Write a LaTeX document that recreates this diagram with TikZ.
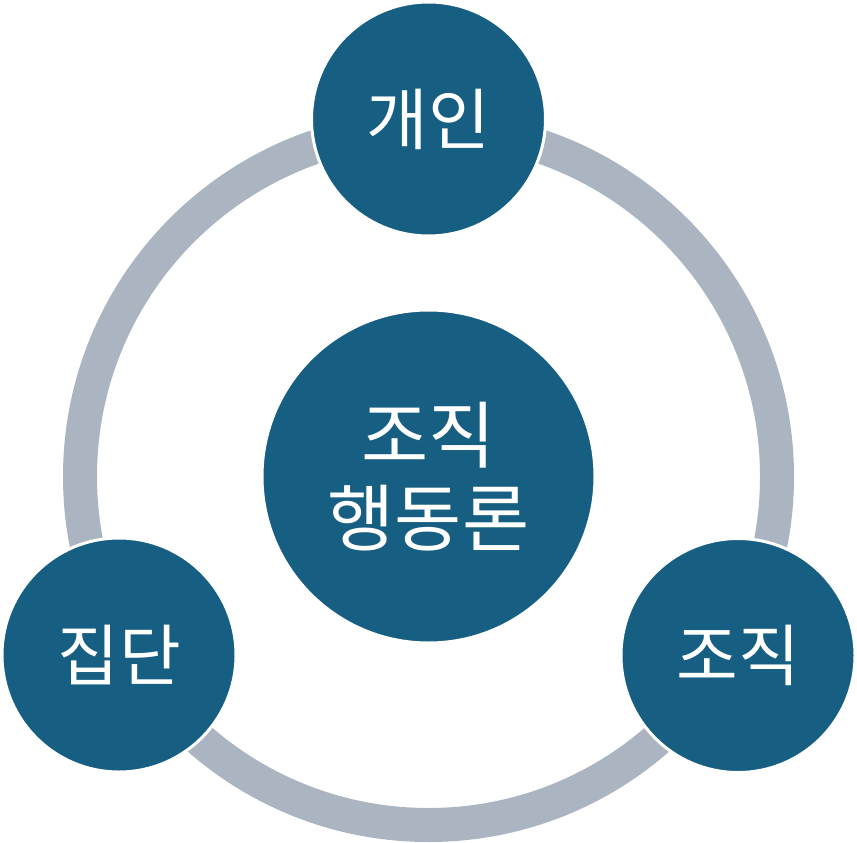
\documentclass[tikz,border=0pt]{standalone}
\usepackage{fontspec}
\usepackage{xcolor}
\usepackage{tikz}
\newfontfamily\krfont{Noto Sans CJK KR}
\usetikzlibrary{positioning,calc}
\definecolor{orgblue}{RGB}{23,95,130}
\definecolor{ringgray}{RGB}{170,181,193}

\begin{document}
\begin{tikzpicture}[x=1pt, y=-1pt,
    bubble/.style={circle, fill=orgblue, draw=white, line width=3pt, text=white, inner sep=0pt, font=\krfont\fontsize{67}{80}\selectfont},
    core/.style={bubble, minimum size=333pt, align=center, font=\krfont\fontsize{73}{83}\selectfont},
    part/.style={bubble, minimum size=234pt}]
    \useasboundingbox (0,0) rectangle (857,843);
    % Outer ring
    \draw[ringgray, line width=34pt] (428.5,476.5) circle (348.5);

    % Centre
    \node[core] (obt) at (428.5,476.5) {조직\\행동론};

    % Three levels on the ring
    \node[part] (indiv) at (428.5,119) {개인};
    \node[part] (group) at (119,655) {집단};
    \node[part] (org) at (738,655.5) {조직};
\end{tikzpicture}
\end{document}
